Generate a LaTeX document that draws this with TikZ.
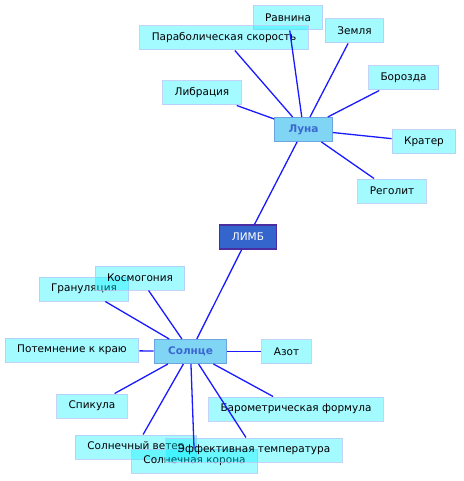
\documentclass[tikz,border=0pt]{standalone}
\usepackage{fontspec}
\setmainfont{DejaVu Sans}
\usepackage{tikz}
\usepackage{xcolor}
\definecolor{leaffill}{HTML}{00F0FF}
\definecolor{leafline}{HTML}{B8C8F8}
\definecolor{hubfill}{HTML}{80D4F4}
\definecolor{hubline}{HTML}{6CA4E0}
\definecolor{hubtext}{HTML}{3A68D0}
\definecolor{rootfill}{HTML}{3465CC}
\definecolor{rootline}{HTML}{4A2DA0}
\definecolor{linkcol}{HTML}{1A1AFF}
\tikzset{
  leaf/.style={
    fill=leaffill, fill opacity=0.36, text opacity=1,
    draw=leafline, draw opacity=0.8, line width=1pt,
    minimum height=24pt, inner xsep=12pt,
    font=\fontsize{10.5}{12}\selectfont
  },
  hub/.style={
    fill=hubfill, draw=hubline, line width=1pt,
    minimum height=24pt, inner xsep=14pt,
    text=hubtext, font=\fontsize{10.5}{12}\selectfont\bfseries
  },
  root/.style={
    fill=rootfill, draw=rootline, line width=1.2pt,
    minimum height=24pt, minimum width=57pt,
    text=white, font=\fontsize{10.5}{12}\selectfont
  },
  link/.style={draw=linkcol, line width=1.3pt}
}

\begin{document}
\begin{tikzpicture}[x=1pt, y=-1pt]
    \useasboundingbox (0,0) rectangle (463,481);

    % Root
    \node[root] (limb) at (248,237) {ЛИМБ};

    % Moon branch
    \node[hub] (moon) at (303.5,129.5) {Луна};
    \node[leaf] (plain) at (288,18) {Равнина};
    \node[leaf] (parab) at (224,38) {Параболическая скорость};
    \node[leaf] (earth) at (354.5,31) {Земля};
    \node[leaf] (furrow) at (403.5,78) {Борозда};
    \node[leaf] (libr) at (202,93) {Либрация};
    \node[leaf] (crater) at (424,142) {Кратер};
    \node[leaf] (regol) at (392,191) {Реголит};

    % Sun branch
    \node[hub] (sun) at (190.5,351.5) {Солнце};
    \node[leaf] (gran) at (84,289) {Грануляция};
    \node[leaf] (cosmo) at (140,278) {Космогония};
    \node[leaf] (dark) at (72,350) {Потемнение к краю};
    \node[leaf] (nitro) at (286.5,351.5) {Азот};
    \node[leaf] (spic) at (92,406) {Спикула};
    \node[leaf] (baro) at (296,409) {Барометрическая формула};
    \node[leaf] (wind) at (136,447) {Солнечный ветер};
    \node[leaf] (corona) at (194.5,461) {Солнечная корона};
    \node[leaf] (teff) at (254,450) {Эффективная температура};

    % Links
    \draw[link] (limb) -- (moon);
    \draw[link] (limb) -- (sun);
    \foreach \leafname in {plain, parab, earth, furrow, libr, crater, regol}
      \draw[link] (moon) -- (\leafname);
    \foreach \leafname in {gran, cosmo, dark, nitro, spic, baro, wind, corona, teff}
      \draw[link] (sun) -- (\leafname);
\end{tikzpicture}
\end{document}
